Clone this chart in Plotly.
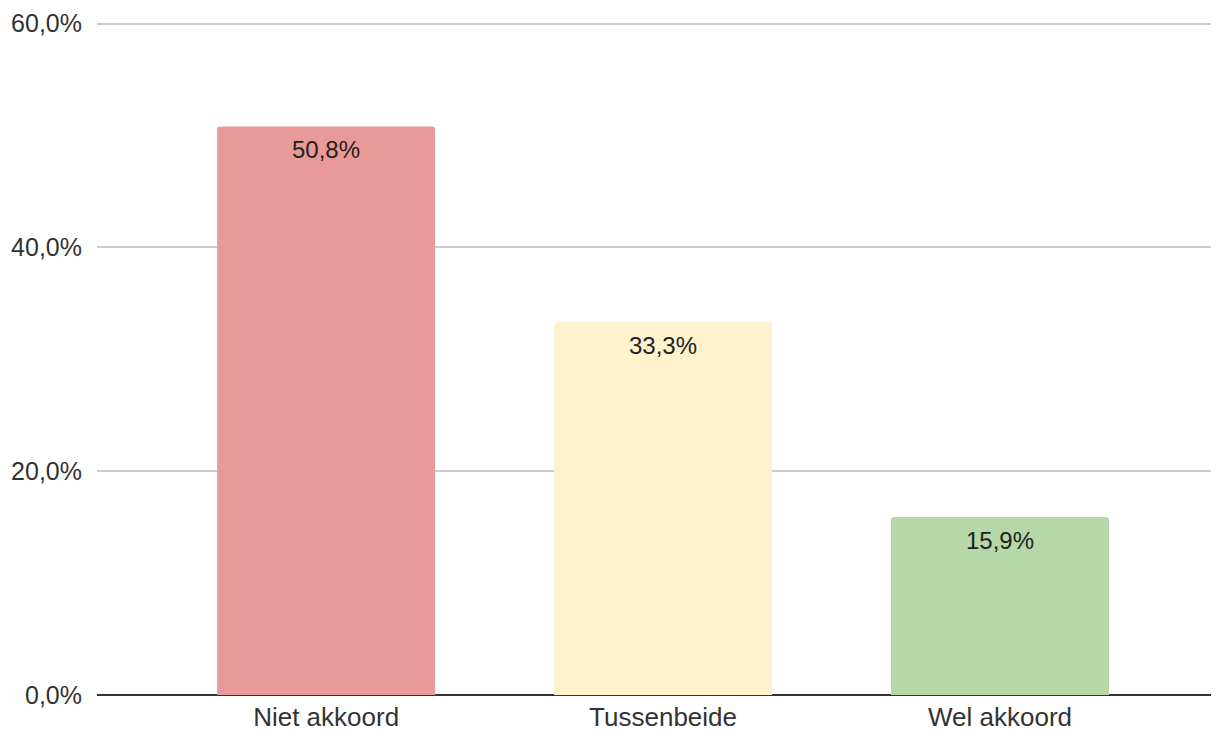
import plotly.graph_objects as go

categories = ["Niet akkoord", "Tussenbeide", "Wel akkoord"]
shares = [0.508, 0.333, 0.159]
bar_colors = ["#EA9999", "#FFF2CC", "#B6D7A8"]

fig = go.Figure()
fig.add_trace(go.Bar(
    x=categories,
    y=shares,
    width=0.647,
    marker=dict(color=bar_colors, line=dict(width=0), cornerradius=3),
    hoverinfo="skip",
))

# value labels just below the top of each bar
for cat, val in zip(categories, shares):
    fig.add_annotation(
        x=cat, y=val, yshift=-23,
        text=f"{val * 100:.1f}%".replace(".", ","),
        showarrow=False,
        font=dict(family="Liberation Sans, Arial", size=24, color="#222222"),
    )

# page body has an 8px margin, so the figure is sized/offset to compensate
fig.update_layout(
    width=1211,
    height=723,
    margin=dict(l=89, r=0, t=10, b=36),
    plot_bgcolor="white",
    paper_bgcolor="white",
    separators=",.",
    showlegend=False,
    font=dict(family="Liberation Sans, Arial", size=25, color="#333333"),
)
fig.update_xaxes(
    range=[-0.68, 2.65],
    showgrid=False,
    showline=False,
    ticks="",
    automargin=False,
    ticklabelstandoff=4,
    tickfont=dict(size=26, color="#333333"),
)
fig.update_yaxes(
    range=[0, 0.605],
    tickvals=[0, 0.2, 0.4, 0.6],
    tickformat=".1%",
    showgrid=True,
    gridcolor="#CCCCCC",
    gridwidth=1.5,
    zeroline=True,
    zerolinecolor="#333333",
    zerolinewidth=2,
    ticks="",
    ticklabelstandoff=14,
    automargin=False,
    tickfont=dict(size=25, color="#333333"),
)

fig.write_html("out.html")
